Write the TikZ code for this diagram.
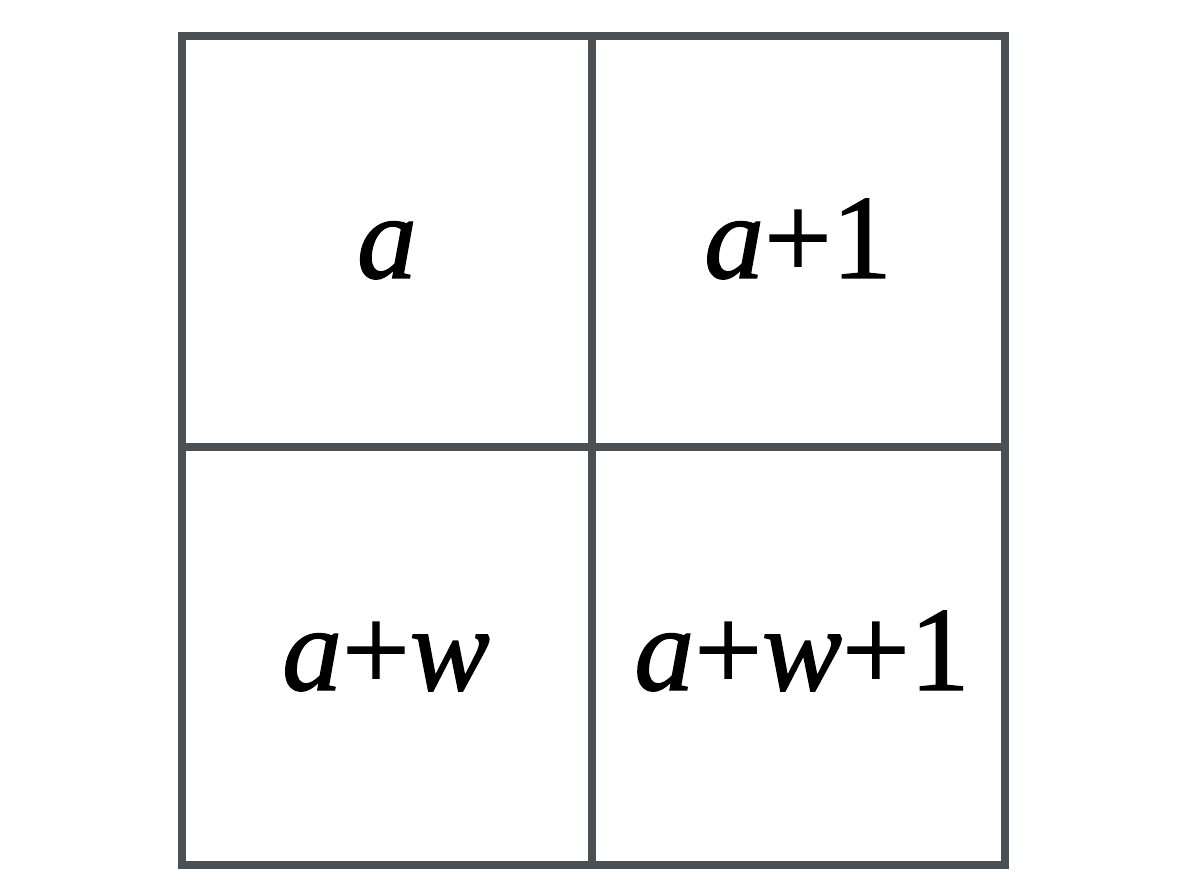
\documentclass[tikz,border=0pt]{standalone}
\usepackage{fontspec}
\setmainfont{Liberation Serif}[FakeBold=1.2,ItalicFeatures={FakeBold=1.2}]
\definecolor{gridgray}{HTML}{4B5055}
\begin{document}
\begin{tikzpicture}[x=1pt,y=-1pt,
  gridline/.style={draw=gridgray,line width=8pt},
  celltext/.style={anchor=base,inner sep=0pt,font=\fontsize{120}{144}\selectfont}]
\useasboundingbox (0,0) rectangle (1179,896);
\fill[white] (0,0) rectangle (1179,896);
\coordinate (tl) at (182,36);
\coordinate (br) at (1005,865);
\coordinate (mt) at (591.5,36);
\coordinate (mb) at (591.5,865);
\coordinate (ml) at (182,447);
\coordinate (mr) at (1005,447);
\draw[gridline] (tl) rectangle (br);
\draw[gridline] (mt) -- (mb);
\draw[gridline] (ml) -- (mr);
\node[celltext] (c1) at (387,278) {\textit{a}};
\node[celltext] (c2) at (798,278) {\textit{a}+1};
\node[celltext] (c3) at (386,690) {\textit{a}+\textit{w}};
\node[celltext] (c4) at (802,690) {\textit{a}+\textit{w}+1};
\end{tikzpicture}
\end{document}
